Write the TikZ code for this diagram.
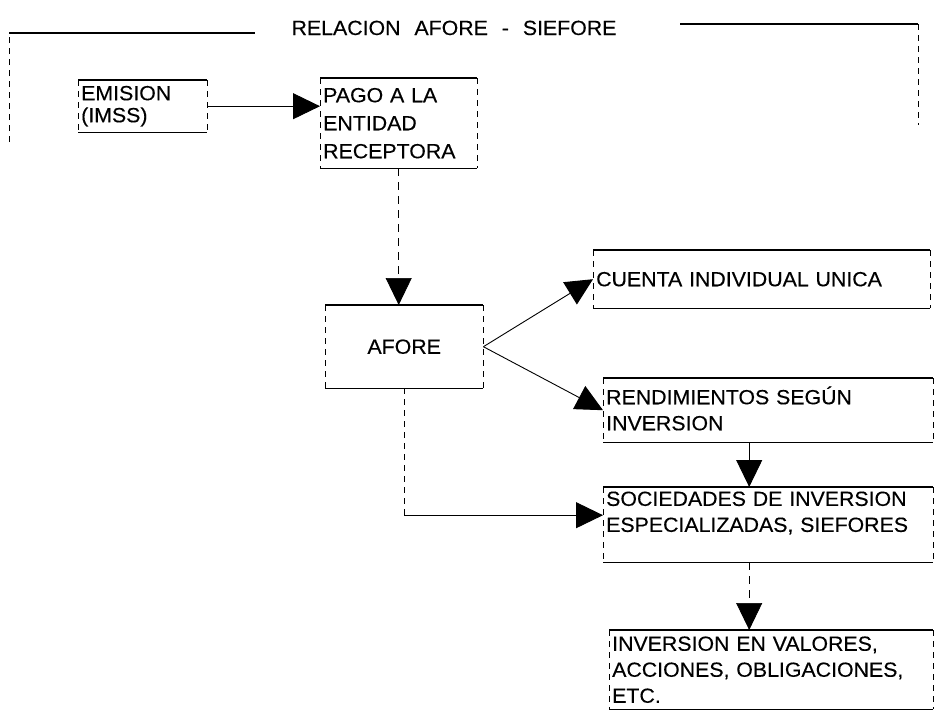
\documentclass[tikz,border=0pt]{standalone}
\usepackage{fontspec}
\setmainfont{Liberation Sans}[FakeStretch=1.04,FakeBold=0.3]
\usetikzlibrary{arrows.meta}
\begin{document}
\begin{tikzpicture}[x=1pt,y=-1pt,
  txt/.style={font=\fontsize{20.5}{26}\selectfont},
  box/.style={txt, inner xsep=3pt, inner ysep=0pt, align=left, anchor=north west},
  hline/.style={line width=1.3pt},
  vline/.style={line width=0.7pt, dash pattern=on 6pt off 5pt},
  conn/.style={line width=0.9pt, -{Triangle[length=27pt,width=26pt]}},
  faintconn/.style={conn, line width=0.7pt, dash pattern=on 8pt off 6pt},
]
\useasboundingbox (0,0) rectangle (936,710);

% title and frame
\node[txt, anchor=base] (title) at (454,35) {RELACION\hspace{8pt} AFORE\hspace{8pt} -\hspace{8pt} SIEFORE};
\coordinate (fa) at (9,142);
\coordinate (fb) at (9,33);
\coordinate (fc) at (255,33);
\coordinate (fd) at (680,24);
\coordinate (fe) at (918,24);
\coordinate (ff) at (918,125);
\draw[hline] (fb) -- (fc);
\draw[hline] (fd) -- (fe);
\draw[vline] (fa) -- (fb);
\draw[vline] (fe) -- (ff);

% boxes
\node[box, font=\fontsize{20.5}{22}\selectfont, text width=123pt, minimum height=52pt] (emi) at (78,80) {EMISION\\(IMSS)};
\node[box, font=\fontsize{20.5}{28}\selectfont, text width=151pt, minimum height=90pt] (pago) at (320,78) {PAGO A LA\\ENTIDAD\\RECEPTORA};
\node[box, align=center, text width=152pt, minimum height=83pt] (afore) at (325,305) {AFORE};
\node[box, text width=331pt, minimum height=58pt] (cuenta) at (593,250) {CUENTA INDIVIDUAL UNICA};
\node[box, text width=324pt, minimum height=64pt] (rend) at (603,378) {RENDIMIENTOS SEG\smash{Ú}N\\INVERSION};
\node[box, text width=324pt, minimum height=75pt] (soc) at (603,487) {SOCIEDADES DE INVERSION\\ESPECIALIZADAS, SIEFORES\\\mbox{}};
\node[box, text width=318pt, minimum height=79pt] (inv) at (609,630) {INVERSION EN VALORES,\\ACCIONES, OBLIGACIONES,\\ETC.};

\foreach \n in {emi,pago,afore,cuenta,rend,soc,inv}{
  \draw[hline] (\n.north west) -- (\n.north east) (\n.south west) -- (\n.south east);
  \draw[vline] (\n.north west) -- (\n.south west) (\n.north east) -- (\n.south east);
}

% connectors
\draw[conn] (emi.east) -- (emi.east -| pago.west);
\draw[faintconn] (pago.south) -- (pago.south |- afore.north);
\draw[conn] (afore.east) -- (cuenta.west);
\draw[conn] (afore.east) -- (rend.west);
\draw[conn] ([xshift=-19pt]rend.south) -- ([xshift=-19pt]rend.south |- soc.north);
\path ([yshift=9.5pt]soc.west) coordinate (sw);
\coordinate (k) at (sw -| afore.south);
\draw[vline] (afore.south) -- (k);
\draw[conn] (k) -- (sw);
\draw[faintconn] ([xshift=-19pt]soc.south) -- ([xshift=-19pt]soc.south |- inv.north);
\end{tikzpicture}
\end{document}
